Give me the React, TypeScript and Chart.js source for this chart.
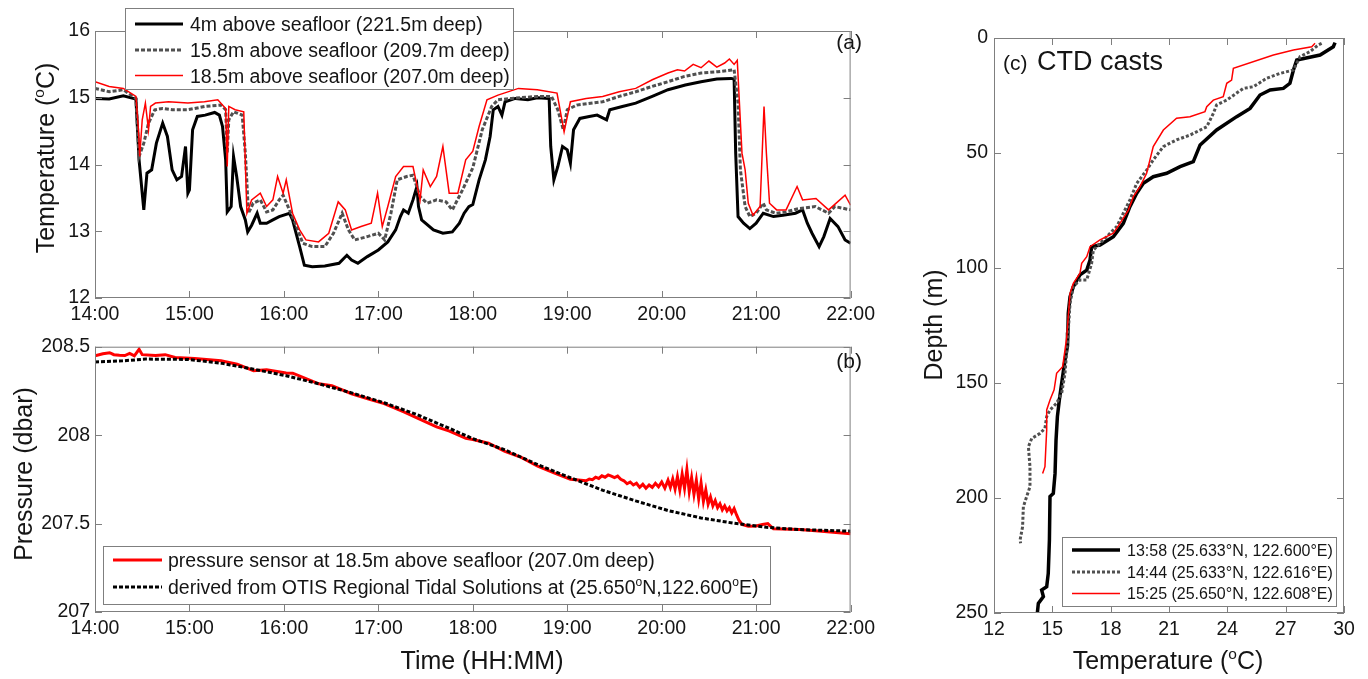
import React, { useEffect, useRef } from 'react';
import { Chart, registerables } from 'chart.js';
Chart.register(...registerables);

const FONT = '"Liberation Sans", Arial, Helvetica, sans-serif';
const TEXT = '#151515';
const FRAME = '#7f7f7f';

// ---------- Panel (a): temperature (x = minutes after 14:00) ----------
const TIME_TICKS = ['14:00', '15:00', '16:00', '17:00', '18:00', '19:00', '20:00', '21:00', '22:00'];

const T4_TIME = [0, 9, 18, 26, 28, 31, 33, 36, 39, 43, 46, 49, 52, 55, 57.5, 59, 60, 62, 65, 70, 76, 79, 81, 83, 84, 86.5, 88, 90, 92.5, 95.5, 97, 99.5, 103, 105, 109, 113, 117, 123.5, 125.5, 130, 133, 138, 146, 155, 160, 163, 167, 173, 180, 186, 191, 194, 196, 199, 202, 204.5, 205.5, 207.5, 215, 221, 227, 231.5, 234.5, 237.5, 240, 244, 248, 251, 253, 256, 258.5, 260.5, 267, 275, 281, 288.5, 289.5, 291.5, 294, 297, 300, 302, 304, 308, 314, 319, 325, 327, 335, 343.5, 354, 364, 375, 385, 395, 404, 406, 407, 408.5, 412, 416, 420, 424.5, 431, 437, 445, 449.5, 452.5, 455.5, 460, 463, 467, 472, 476.5, 480];
const T4_TEMP = [14.99, 14.98, 15.03, 14.98, 14.07, 13.32, 13.87, 13.92, 14.32, 14.62, 14.42, 13.92, 13.77, 13.82, 14.27, 13.57, 13.62, 14.52, 14.72, 14.74, 14.78, 14.74, 14.57, 14.07, 13.29, 13.37, 14.12, 13.82, 13.37, 13.17, 12.99, 13.09, 13.27, 13.12, 13.12, 13.17, 13.22, 13.27, 13.17, 12.77, 12.49, 12.47, 12.48, 12.52, 12.64, 12.57, 12.52, 12.62, 12.72, 12.84, 13.02, 13.22, 13.32, 13.27, 13.47, 13.67, 13.37, 13.17, 13.02, 12.97, 12.99, 13.12, 13.27, 13.37, 13.4, 13.77, 14.07, 14.42, 14.82, 14.87, 14.74, 14.94, 14.99, 14.97, 15.0, 14.99, 14.27, 13.77, 13.97, 14.27, 14.22, 14.02, 14.52, 14.69, 14.72, 14.74, 14.67, 14.82, 14.87, 14.92, 15.02, 15.12, 15.19, 15.24, 15.28, 15.29, 15.28, 14.17, 13.22, 13.12, 13.04, 13.12, 13.27, 13.22, 13.24, 13.27, 13.32, 13.12, 12.97, 12.77, 12.92, 13.19, 13.07, 12.87, 12.82];

const T158_TIME = [0, 9, 18, 26, 28, 31, 34, 38, 43, 49, 59, 70, 80, 83, 84, 85, 88, 93.5, 95.5, 97.5, 100.5, 105, 109, 113, 117, 119.5, 123.5, 128, 132, 138, 146, 151.5, 157, 161, 165, 173, 180, 184, 188, 192, 198, 202, 206.5, 211, 217, 223, 227, 233.5, 240, 246, 252, 256, 264.5, 281, 290, 294, 297.5, 300, 306, 322.5, 333, 343.5, 354, 364, 374.5, 385, 395.5, 406, 408.5, 410, 413, 416, 420, 424.5, 426.5, 432.5, 439, 447, 457.5, 466, 470, 480];
const T158_TEMP = [15.14, 15.09, 15.12, 14.99, 14.12, 14.32, 14.62, 14.82, 14.84, 14.82, 14.82, 14.87, 14.89, 14.82, 14.17, 14.67, 14.79, 14.74, 14.17, 13.27, 13.42, 13.47, 13.29, 13.32, 13.47, 13.54, 13.32, 13.07, 12.82, 12.77, 12.77, 12.97, 13.27, 13.02, 12.87, 12.92, 12.97, 12.87, 13.27, 13.77, 13.82, 13.84, 13.52, 13.42, 13.47, 13.44, 13.32, 13.62, 13.95, 14.52, 14.87, 14.97, 14.99, 15.02, 15.02, 14.82, 14.52, 14.82, 14.89, 14.94, 15.02, 15.09, 15.17, 15.24, 15.32, 15.37, 15.39, 15.42, 14.92, 13.92, 13.37, 13.22, 13.27, 13.42, 13.32, 13.27, 13.29, 13.34, 13.37, 13.27, 13.37, 13.32];

const T185_TIME = [0, 9, 18, 26, 27.6, 28.4, 30, 32, 34, 35.3, 38.4, 46.7, 59, 69.5, 78, 83, 84, 85, 89, 94.5, 96.5, 99.5, 105, 109, 113, 116, 119.5, 121.5, 125.5, 130, 134, 142, 148.5, 154.5, 159, 163, 169, 175.5, 179.5, 182.5, 186, 191, 196, 202, 206.5, 208.5, 213, 217, 221, 225, 230.5, 235.5, 240, 244, 249, 256, 269, 281, 293.5, 298, 302, 312, 322.5, 333, 343.5, 354, 364, 370, 374.5, 380, 385, 390, 395, 400, 403, 406, 408, 411, 413, 415, 418, 422.5, 425, 426.5, 428.5, 433, 439, 446, 449.5, 458, 466, 476.5, 480];
const T185_TEMP = [15.24, 15.17, 15.14, 15.02, 14.52, 14.12, 14.67, 14.92, 14.52, 14.87, 14.92, 14.94, 14.92, 14.94, 14.97, 14.84, 13.97, 14.87, 14.82, 14.79, 13.27, 13.47, 13.57, 13.37, 13.47, 13.82, 13.57, 13.77, 13.27, 13.02, 12.87, 12.84, 12.97, 13.44, 13.32, 13.02, 13.07, 13.12, 13.57, 13.07, 13.37, 13.82, 13.97, 13.97, 13.47, 13.92, 13.67, 13.82, 14.27, 13.57, 13.57, 14.07, 14.2, 14.57, 14.97, 15.04, 15.14, 15.12, 15.07, 14.49, 14.94, 14.99, 15.02, 15.09, 15.14, 15.27, 15.37, 15.42, 15.4, 15.5, 15.45, 15.55, 15.46, 15.52, 15.58, 15.5, 15.56, 14.17, 13.92, 13.42, 13.24, 13.37, 14.87, 14.17, 13.42, 13.32, 13.32, 13.67, 13.47, 13.49, 13.32, 13.54, 13.39];

// ---------- Panel (b): pressure ----------
const PS_TIME = [0, 5, 9.3, 12, 15.5, 19, 22, 25, 28, 30, 38.4, 44.6, 50.9, 63.3, 80, 90.3, 100.7, 109, 121.4, 125.6, 142.2, 150.5, 163, 173.3, 183.7, 196.2, 204.5, 217, 225.2, 235.6, 240, 250, 260.4, 270.8, 281.2, 291.6, 302, 312, 314, 316, 318, 320, 322, 324, 326, 328, 330, 332, 334, 336, 338, 340, 342, 344, 346, 348, 350, 352, 354, 356, 358, 360, 362, 364, 365.5, 367, 368.5, 370, 371.5, 373, 374.5, 376, 377.5, 379, 380.5, 382, 383.5, 385, 386.5, 388, 389.5, 391, 392.5, 394, 395.5, 397, 398.5, 400, 401.5, 403, 404.5, 406, 407.5, 409, 411, 415, 420, 424, 427.4, 431, 447.3, 457.7, 480];
const PS_VAL = [208.448, 208.46, 208.466, 208.455, 208.452, 208.45, 208.462, 208.448, 208.485, 208.455, 208.45, 208.455, 208.439, 208.433, 208.42, 208.401, 208.364, 208.37, 208.351, 208.35, 208.29, 208.28, 208.234, 208.206, 208.178, 208.131, 208.098, 208.047, 208.023, 207.982, 207.975, 207.954, 207.908, 207.874, 207.824, 207.787, 207.75, 207.742, 207.752, 207.748, 207.762, 207.755, 207.77, 207.762, 207.775, 207.768, 207.76, 207.768, 207.75, 207.742, 207.725, 207.735, 207.718, 207.728, 207.705, 207.722, 207.7, 207.718, 207.705, 207.728, 207.708, 207.735, 207.7, 207.745, 207.705, 207.752, 207.695, 207.765, 207.69, 207.78, 207.7, 207.805, 207.68, 207.76, 207.665, 207.745, 207.64, 207.73, 207.625, 207.69, 207.61, 207.65, 207.6, 207.63, 207.59, 207.612, 207.578, 207.6, 207.572, 207.59, 207.56, 207.585, 207.55, 207.52, 207.495, 207.485, 207.486, 207.495, 207.5, 207.47, 207.466, 207.46, 207.442];

const OTIS_TIME = [0, 17.6, 32.2, 59.2, 80, 100.7, 121.4, 142.2, 163, 183.7, 204.5, 225.2, 240, 260.4, 281.2, 302, 322.7, 343.5, 364.3, 385, 405.8, 426.5, 447.3, 480];
const OTIS_VAL = [208.414, 208.42, 208.43, 208.428, 208.407, 208.373, 208.336, 208.29, 208.239, 208.183, 208.116, 208.038, 207.98, 207.917, 207.833, 207.759, 207.688, 207.628, 207.573, 207.532, 207.502, 207.479, 207.466, 207.457];

// ---------- Panel (c): CTD casts ----------
const CTD1_TEMP = [29.54, 29.45, 28.77, 27.57, 27.4, 27.22, 26.88, 26.2, 25.68, 25.17, 24.48, 23.45, 22.6, 22.25, 21.57, 20.88, 20.19, 19.68, 19.34, 18.99, 18.65, 18.14, 17.45, 17.02, 16.94, 16.77, 16.42, 16.08, 15.91, 15.82, 15.8, 15.78, 15.65, 15.48, 15.36, 15.26, 15.19, 15.14, 15.05, 14.88, 14.85, 14.79, 14.71, 14.45, 14.54, 14.28, 14.23];
const CTD1_DEPTH = [2.0, 3.8, 7.4, 9.6, 13.9, 19.7, 21.9, 22.6, 24.8, 30.6, 34.2, 40.0, 46.5, 53.8, 55.9, 58.8, 60.3, 63.2, 67.5, 73.3, 80.6, 86.4, 90, 90.7, 96.5, 100.9, 103, 108.1, 112.5, 119.7, 128, 134, 140, 150.1, 157.4, 164.6, 174.8, 189.3, 198, 199.4, 218.3, 232.8, 238.6, 240, 242.9, 245.8, 250];

const CTD2_TEMP = [28.85, 28.68, 28.25, 27.74, 27.4, 26.71, 26.02, 25.34, 24.82, 23.97, 23.45, 23.28, 22.94, 22.08, 21.39, 20.71, 20.19, 19.85, 19.34, 18.99, 18.65, 18.31, 17.79, 17.45, 17.11, 17.02, 16.77, 16.42, 16.08, 15.91, 15.8, 15.65, 15.48, 15.22, 14.88, 14.71, 14.62, 14.37, 13.94, 13.77, 13.85, 13.85, 13.68, 13.51, 13.47, 13.34, 13.37];
const CTD2_DEPTH = [2.3, 3.0, 5.9, 8.1, 13.9, 15.4, 17.5, 21.2, 21.9, 27.0, 29.1, 32.8, 38.6, 42.2, 44.3, 47.2, 53, 57.4, 63.2, 70.4, 76.2, 82, 86.4, 89.3, 92.2, 98, 105.2, 105.2, 108.1, 115.4, 130, 145.8, 154.5, 158.8, 161.7, 164.6, 169.7, 171.9, 174.1, 177.7, 186.4, 195.1, 199.4, 203.8, 212.5, 218.3, 219.7];

const CTD3_TEMP = [28.51, 28.34, 27.4, 26.37, 24.31, 24.22, 23.97, 23.79, 23.28, 22.94, 22.85, 22.08, 21.39, 20.71, 20.19, 20.02, 19.85, 19.51, 19.17, 18.91, 18.48, 18.14, 17.45, 16.94, 16.77, 16.51, 16.42, 16.08, 15.91, 15.74, 15.65, 15.53, 15.22, 15.09, 14.88, 14.71, 14.71, 14.66, 14.62, 14.5];
const CTD3_DEPTH = [2.3, 3.8, 5.2, 7.4, 13.2, 18.3, 19.7, 25.5, 27, 29.9, 32, 34.2, 34.9, 40, 47.2, 53, 58.8, 64.6, 69, 74.8, 80.6, 84.9, 87.8, 90.7, 95.1, 98, 102.3, 106.7, 111, 130, 135.7, 142.9, 145.8, 153, 157.4, 161.7, 170.4, 179.1, 186.4, 189.3];

// ---------- helpers ----------
type Seg = { t: string; sup?: boolean };

function pts(xs: number[], ys: number[]) {
  return xs.map((x, i) => ({ x, y: ys[i] }));
}

function drawRich(ctx: CanvasRenderingContext2D, segs: Seg[], x: number, y: number, size: number, align: string, rot = 0) {
  ctx.save();
  ctx.translate(x, y);
  if (rot) ctx.rotate(rot);
  ctx.textBaseline = 'alphabetic';
  ctx.textAlign = 'left';
  ctx.fillStyle = TEXT;
  const widths = segs.map((s) => {
    ctx.font = `${s.sup ? size * 0.62 : size}px ${FONT}`;
    return ctx.measureText(s.t).width;
  });
  const total = widths.reduce((a, b) => a + b, 0);
  let cx = align === 'left' ? 0 : align === 'center' ? -total / 2 : -total;
  segs.forEach((s, i) => {
    ctx.font = `${s.sup ? size * 0.62 : size}px ${FONT}`;
    ctx.fillText(s.t, cx, s.sup ? -size * 0.42 : 0);
    cx += widths[i];
  });
  ctx.restore();
}

const decor = {
  id: 'decor',
  afterDraw(chart: any, _args: any, opts: any) {
    const { ctx, chartArea: a, scales } = chart;
    ctx.save();
    ctx.strokeStyle = FRAME;
    ctx.lineWidth = 1;
    ctx.setLineDash([]);
    ctx.strokeRect(a.left + 0.5, a.top + 0.5, a.right - a.left - 1, a.bottom - a.top - 1);
    const TL = 7;
    ctx.beginPath();
    scales.x.ticks.forEach((t: any) => {
      const px = Math.round(scales.x.getPixelForValue(t.value)) + 0.5;
      ctx.moveTo(px, a.bottom); ctx.lineTo(px, a.bottom - TL);
      ctx.moveTo(px, a.top); ctx.lineTo(px, a.top + TL);
    });
    scales.y.ticks.forEach((t: any) => {
      const py = Math.round(scales.y.getPixelForValue(t.value)) + 0.5;
      ctx.moveTo(a.left, py); ctx.lineTo(a.left + TL, py);
      ctx.moveTo(a.right, py); ctx.lineTo(a.right - TL, py);
    });
    ctx.stroke();

    ctx.translate(-opts.ox, -opts.oy);
    (opts.texts || []).forEach((tx: any) => {
      drawRich(ctx, tx.segs, tx.x, tx.y, tx.size, tx.align, tx.rot || 0);
    });
    const lg = opts.legend;
    if (lg) {
      const [x1, y1, x2, y2] = lg.box;
      ctx.fillStyle = '#ffffff';
      ctx.fillRect(x1, y1, x2 - x1, y2 - y1);
      ctx.strokeStyle = FRAME;
      ctx.lineWidth = 1;
      ctx.setLineDash([]);
      ctx.strokeRect(x1 + 0.5, y1 + 0.5, x2 - x1, y2 - y1);
      lg.items.forEach((it: any, i: number) => {
        const ds = chart.data.datasets[it.ds];
        const yy = lg.rows[i];
        ctx.save();
        ctx.strokeStyle = ds.borderColor;
        ctx.lineWidth = ds.borderWidth;
        ctx.setLineDash(ds.borderDash || []);
        ctx.beginPath();
        ctx.moveTo(lg.sample[0], yy);
        ctx.lineTo(lg.sample[1], yy);
        ctx.stroke();
        ctx.restore();
        drawRich(ctx, it.segs, lg.textX, yy + lg.size * 0.36, lg.size, 'left');
      });
    }
    ctx.restore();
  },
};

const tickFont = { size: 19.5, family: FONT };

function axis(extra: any) {
  return {
    type: 'linear',
    grid: { display: false, drawTicks: false },
    border: { display: false },
    ...extra,
    ticks: { color: TEXT, font: tickFont, autoSkip: false, maxRotation: 0, ...extra.ticks },
  };
}

const O = 'o';

function cfgA(): any {
  return {
    type: 'line',
    data: {
      datasets: [
        { data: pts(T4_TIME, T4_TEMP), borderColor: '#000000', borderWidth: 3, order: 2 },
        { data: pts(T158_TIME, T158_TEMP), borderColor: '#505050', borderWidth: 3, borderDash: [4, 2], order: 1 },
        { data: pts(T185_TIME, T185_TEMP), borderColor: '#ff0000', borderWidth: 1.5, order: 0 },
      ],
    },
    options: {
      responsive: false,
      animation: false,
      elements: { point: { radius: 0 }, line: { tension: 0, fill: false } },
      layout: { padding: { top: 31, right: 14, left: 0, bottom: 0 }, autoPadding: false },
      scales: {
        x: axis({ min: 0, max: 480, afterFit: (s: any) => { s.height = 32; }, ticks: { stepSize: 60, padding: 5, callback: (v: number) => TIME_TICKS[Math.round(v / 60)] } }),
        y: axis({ min: 12, max: 16, afterFit: (s: any) => { s.width = 95; }, ticks: { stepSize: 1, padding: 5, callback: (v: number) => String(v) } }),
      },
      plugins: {
        legend: { display: false },
        tooltip: { enabled: false },
        decor: {
          ox: 0, oy: 0,
          texts: [
            { segs: [{ t: 'Temperature (' }, { t: O, sup: true }, { t: 'C)' }], x: 54, y: 158, size: 25, align: 'center', rot: -Math.PI / 2 },
            { segs: [{ t: '(a)' }], x: 862, y: 49, size: 21, align: 'right' },
          ],
          legend: {
            box: [125, 8, 513, 89], rows: [24, 50, 75.5], sample: [135, 183], textX: 190, size: 19.5,
            items: [
              { ds: 0, segs: [{ t: '4m above seafloor (221.5m deep)' }] },
              { ds: 1, segs: [{ t: '15.8m above seafloor (209.7m deep)' }] },
              { ds: 2, segs: [{ t: '18.5m above seafloor (207.0m deep)' }] },
            ],
          },
        },
      },
    },
    plugins: [decor],
  };
}

function cfgB(): any {
  return {
    type: 'line',
    data: {
      datasets: [
        { data: pts(PS_TIME, PS_VAL), borderColor: '#ff0000', borderWidth: 3, order: 1 },
        { data: pts(OTIS_TIME, OTIS_VAL), borderColor: '#000000', borderWidth: 3, borderDash: [4, 2], order: 0 },
      ],
    },
    options: {
      responsive: false,
      animation: false,
      elements: { point: { radius: 0 }, line: { tension: 0, fill: false } },
      layout: { padding: { top: 14, right: 14, left: 0, bottom: 0 }, autoPadding: false },
      scales: {
        x: axis({ min: 0, max: 480, afterFit: (s: any) => { s.height = 67; }, ticks: { stepSize: 60, padding: 5, callback: (v: number) => TIME_TICKS[Math.round(v / 60)] } }),
        y: axis({ min: 207, max: 208.5, afterFit: (s: any) => { s.width = 95; }, ticks: { stepSize: 0.5, padding: 5, callback: (v: number) => String(Math.round(v * 10) / 10) } }),
      },
      plugins: {
        legend: { display: false },
        tooltip: { enabled: false },
        decor: {
          ox: 0, oy: 330,
          texts: [
            { segs: [{ t: 'Pressure (dbar)' }], x: 32, y: 474, size: 25, align: 'center', rot: -Math.PI / 2 },
            { segs: [{ t: '(b)' }], x: 862, y: 368, size: 21, align: 'right' },
            { segs: [{ t: 'Time (HH:MM)' }], x: 482, y: 669, size: 25, align: 'center' },
          ],
          legend: {
            box: [103, 546, 770, 604], rows: [560, 587], sample: [113, 162], textX: 168, size: 19.5,
            items: [
              { ds: 0, segs: [{ t: 'pressure sensor at 18.5m above seafloor (207.0m deep)' }] },
              { ds: 1, segs: [{ t: 'derived from OTIS Regional Tidal Solutions at (25.650' }, { t: O, sup: true }, { t: 'N,122.600' }, { t: O, sup: true }, { t: 'E)' }] },
            ],
          },
        },
      },
    },
    plugins: [decor],
  };
}

function cfgC(): any {
  return {
    type: 'scatter',
    data: {
      datasets: [
        { data: pts(CTD1_TEMP, CTD1_DEPTH), showLine: true, borderColor: '#000000', borderWidth: 3.5, order: 2 },
        { data: pts(CTD2_TEMP, CTD2_DEPTH), showLine: true, borderColor: '#505050', borderWidth: 3, borderDash: [3, 2], order: 1 },
        { data: pts(CTD3_TEMP, CTD3_DEPTH), showLine: true, borderColor: '#ff0000', borderWidth: 1.5, order: 0 },
      ],
    },
    options: {
      responsive: false,
      animation: false,
      elements: { point: { radius: 0 }, line: { tension: 0, fill: false } },
      layout: { padding: { top: 38, right: 24, left: 0, bottom: 0 }, autoPadding: false },
      scales: {
        x: axis({ min: 12, max: 30, afterFit: (s: any) => { s.height = 66; }, ticks: { stepSize: 3, padding: 5, callback: (v: number) => String(v) } }),
        y: axis({ min: 0, max: 250, reverse: true, afterFit: (s: any) => { s.width = 114; }, ticks: { stepSize: 50, padding: 6, callback: (v: number) => String(v) } }),
      },
      plugins: {
        legend: { display: false },
        tooltip: { enabled: false },
        decor: {
          ox: 880, oy: 0,
          texts: [
            { segs: [{ t: 'Depth (m)' }], x: 942, y: 325, size: 25, align: 'center', rot: -Math.PI / 2 },
            { segs: [{ t: 'Temperature (' }, { t: O, sup: true }, { t: 'C)' }], x: 1168, y: 669, size: 25, align: 'center' },
            { segs: [{ t: '(c)' }], x: 1003, y: 70, size: 21, align: 'left' },
            { segs: [{ t: 'CTD casts' }], x: 1037, y: 70, size: 27, align: 'left' },
          ],
          legend: {
            box: [1062, 537, 1336, 606], rows: [550, 572, 593.5], sample: [1072, 1120], textX: 1127, size: 16,
            items: [
              { ds: 0, segs: [{ t: '13:58 (25.633°N, 122.600°E)' }] },
              { ds: 1, segs: [{ t: '14:44 (25.633°N, 122.616°E)' }] },
              { ds: 2, segs: [{ t: '15:25 (25.650°N, 122.608°E)' }] },
            ],
          },
        },
      },
    },
    plugins: [decor],
  };
}

export default function App() {
  const refA = useRef<HTMLCanvasElement>(null);
  const refB = useRef<HTMLCanvasElement>(null);
  const refC = useRef<HTMLCanvasElement>(null);

  useEffect(() => {
    document.body.style.margin = '0';
    Chart.defaults.font.family = FONT;
    const charts = [
      new Chart(refA.current as HTMLCanvasElement, cfgA()),
      new Chart(refB.current as HTMLCanvasElement, cfgB()),
      new Chart(refC.current as HTMLCanvasElement, cfgC()),
    ];
    return () => charts.forEach((c) => c.destroy());
  }, []);

  return (
    <div style={{ position: 'relative', width: 1368, height: 679, background: '#ffffff', overflow: 'hidden' }}>
      <canvas ref={refA} width={880} height={330} style={{ position: 'absolute', left: 0, top: 0 }} />
      <canvas ref={refB} width={880} height={349} style={{ position: 'absolute', left: 0, top: 330 }} />
      <canvas ref={refC} width={488} height={679} style={{ position: 'absolute', left: 880, top: 0 }} />
    </div>
  );
}
